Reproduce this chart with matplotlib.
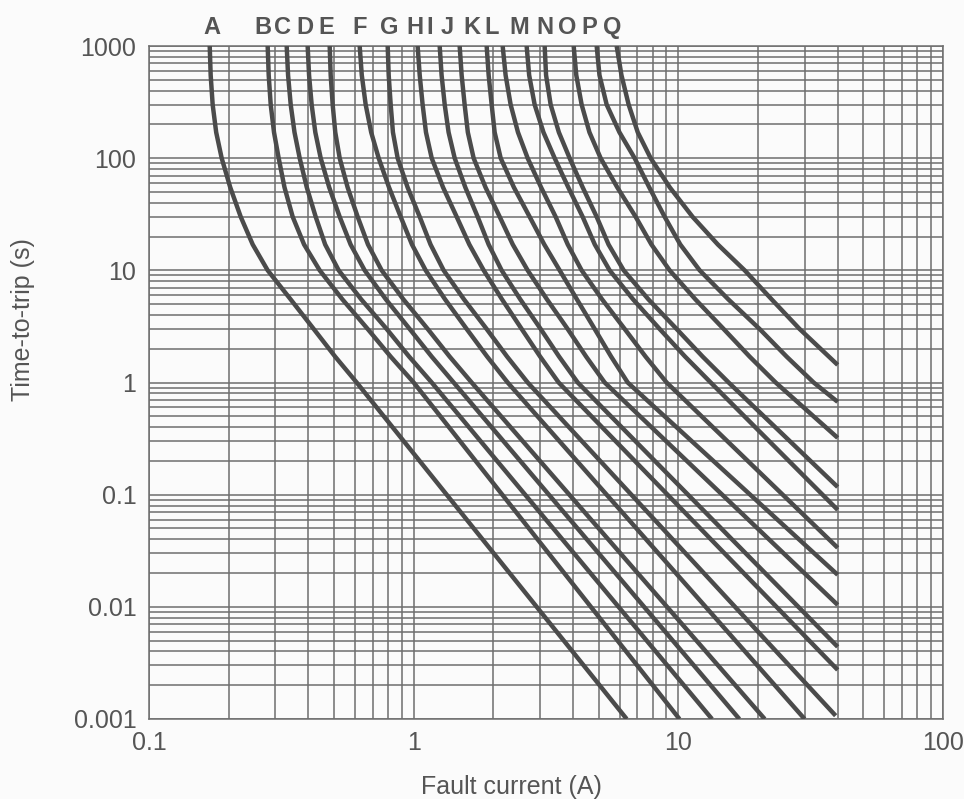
import numpy as np
import matplotlib
matplotlib.use("Agg")
import matplotlib.pyplot as plt
import matplotlib.transforms as mtransforms
from matplotlib.ticker import LogLocator, NullFormatter, FixedLocator, FixedFormatter

plt.rcParams['font.family'] = ['Liberation Sans', 'DejaVu Sans']

# curve names as printed above the chart
labels = list("ABCDEFGHIJKLMNOPQ")
# where each name sits along the current axis (A)
label_amps = [0.1725, 0.269, 0.320, 0.3875, 0.469, 0.625, 0.811, 1.009, 1.149,
              1.344, 1.656, 1.971, 2.515, 3.126, 3.818, 4.623, 5.648]

t_rows = [1000, 550, 300, 170, 100, 55, 30, 17, 10, 5.5, 3, 1.7, 1]

# current (A) of each curve at the time rows above
amps = [
    [0.1696, 0.1710, 0.1740, 0.1794, 0.1882, 0.2027, 0.2221, 0.2465, 0.2808, 0.3431, 0.4191, 0.5051, 0.6091],  # A
    [0.2808, 0.2833, 0.2883, 0.2967, 0.3090, 0.3250, 0.3491, 0.3854, 0.4415, 0.5383, 0.6703, 0.8188, 1.000],   # B
    [0.3313, 0.3353, 0.3431, 0.3546, 0.3710, 0.3945, 0.4264, 0.4630, 0.5208, 0.6340, 0.7907, 0.9616, 1.170],   # C
    [0.3976, 0.4025, 0.4117, 0.4250, 0.4454, 0.4795, 0.5254, 0.5777, 0.6530, 0.7859, 0.9658, 1.170, 1.416],    # D
    [0.4816, 0.4858, 0.4943, 0.5056, 0.5254, 0.5628, 0.6144, 0.6720, 0.7571, 0.9152, 1.130, 1.368, 1.656],     # E
    [0.6252, 0.6367, 0.6587, 0.6910, 0.7376, 0.8068, 0.8931, 0.9853, 1.110, 1.315, 1.586, 1.896, 2.265],       # F
    [0.7977, 0.8047, 0.8188, 0.8350, 0.8700, 0.9483, 1.054, 1.158, 1.298, 1.550, 1.887, 2.255, 2.696],         # G
    [1.035, 1.054, 1.081, 1.113, 1.170, 1.291, 1.454, 1.623, 1.839, 2.158, 2.559, 3.006, 3.530],               # H
    [1.254, 1.275, 1.310, 1.355, 1.429, 1.567, 1.745, 1.920, 2.150, 2.530, 3.019, 3.545, 4.166],               # I
    [1.492, 1.518, 1.558, 1.602, 1.685, 1.868, 2.114, 2.368, 2.696, 3.191, 3.818, 4.485, 5.268],               # J
    [1.887, 1.920, 1.971, 2.023, 2.132, 2.391, 2.743, 3.115, 3.561, 4.140, 4.830, 5.574, 6.436],               # K
    [2.169, 2.225, 2.325, 2.478, 2.696, 3.029, 3.439, 3.821, 4.312, 5.155, 6.271, 7.523, 9.032],               # L
    [2.672, 2.731, 2.865, 3.093, 3.410, 3.838, 4.350, 4.834, 5.501, 6.750, 8.500, 10.61, 13.25],               # M
    [3.125, 3.164, 3.293, 3.537, 3.885, 4.350, 4.914, 5.449, 6.216, 7.715, 9.853, 12.36, 15.49],               # N
    [4.023, 4.115, 4.312, 4.615, 5.087, 5.877, 6.898, 7.912, 9.272, 11.61, 14.83, 18.60, 23.32],               # O
    [4.914, 5.035, 5.361, 5.991, 6.838, 7.763, 8.878, 10.17, 12.04, 15.46, 20.28, 25.66, 32.45],               # P
    [5.847, 6.096, 6.491, 7.025, 7.860, 9.280, 11.32, 14.10, 17.81, 22.54, 28.72, None, None],                 # Q
]

# where each curve stops (bottom edge or the 40 A limit)
end_amps = [6.38, 10.1, 13.4, 17.0, 21.2, 30.0, 39.3,
            40, 40, 40, 40, 40, 40, 40, 40, 40, 40]
end_times = [0.001, 0.001, 0.001, 0.001, 0.001, 0.001, 0.00107,
             0.00274, 0.0044, 0.0104, 0.0193, 0.0336, 0.0732, 0.117, 0.321, 0.672, 1.435]

curve_col = '#4b4b4b'
grid_col = '#6e6e6e'
text_col = '#555555'

fig = plt.figure(figsize=(9.64, 7.99), dpi=100)
fig.patch.set_facecolor('#fbfbfb')
ax = fig.add_axes([149/964, 1 - 719/799, 794/964, 673/799])
ax.set_facecolor('#fbfbfb')

ax.set_xscale('log')
ax.set_yscale('log')
ax.set_xlim(0.1, 100)
ax.set_ylim(0.001, 1000)

for i in range(len(labels)):
    xs = [a for a in amps[i] if a is not None]
    ys = [t for a, t in zip(amps[i], t_rows) if a is not None]
    xs.append(end_amps[i])
    ys.append(end_times[i])
    ax.plot(xs, ys, color=curve_col, lw=3.2, solid_capstyle='butt',
            solid_joinstyle='round', zorder=3)

# log grid, every 1..9 of each decade on both axes
ax.xaxis.set_major_locator(FixedLocator([0.1, 1, 10, 100]))
ax.xaxis.set_major_formatter(FixedFormatter(['0.1', '1', '10', '100']))
ax.yaxis.set_major_locator(FixedLocator([0.001, 0.01, 0.1, 1, 10, 100, 1000]))
ax.yaxis.set_major_formatter(FixedFormatter(['0.001', '0.01', '0.1', '1', '10', '100', '1000']))
ax.xaxis.set_minor_locator(LogLocator(base=10, subs=np.arange(2, 10), numticks=20))
ax.yaxis.set_minor_locator(LogLocator(base=10, subs=np.arange(2, 10), numticks=20))
ax.xaxis.set_minor_formatter(NullFormatter())
ax.yaxis.set_minor_formatter(NullFormatter())
ax.grid(True, which='both', color=grid_col, lw=1.1)
ax.set_axisbelow(True)

ax.tick_params(which='both', length=0, labelsize=18, labelcolor=text_col)
ax.tick_params(axis='x', pad=9)
ax.tick_params(axis='y', pad=9)
for s in ax.spines.values():
    s.set_color(grid_col)
    s.set_linewidth(1.1)

ax.set_xlabel('Fault current (A)', fontsize=18, color=text_col)
ax.set_ylabel('Time-to-trip (s)', fontsize=18, color=text_col)
ax.xaxis.set_label_coords(0.456, -0.083)
ax.yaxis.set_label_coords(-0.1436, 0.593)

trans = mtransforms.blended_transform_factory(ax.transData, ax.transAxes)
for lab, xa in zip(labels, label_amps):
    ax.text(xa, 1.028, lab, transform=trans, ha='center', va='center',
            fontsize=17, fontweight='bold', color=text_col)

fig.savefig('out.png', dpi=100, facecolor=fig.get_facecolor())
